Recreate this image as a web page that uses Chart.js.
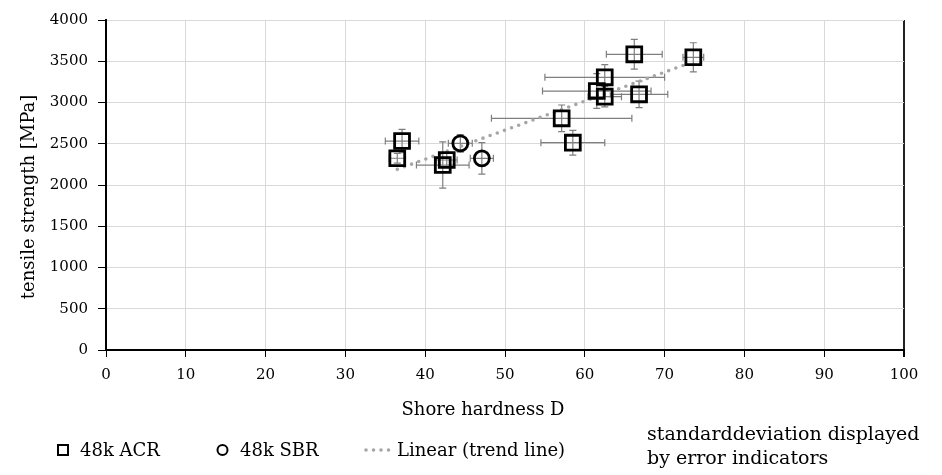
<!DOCTYPE html>
<html>
<head>
<meta charset="utf-8">
<script src="https://cdn.jsdelivr.net/npm/chart.js@4.4.1/dist/chart.umd.min.js"></script>
<style>
  html, body { margin: 0; padding: 0; background: #fff; }
  #wrap { width: 942px; height: 475px; position: relative; }
</style>
</head>
<body>
<div id="wrap"><canvas id="myChart" width="942" height="475"></canvas></div>
<script>
const ctx = document.getElementById('myChart');

// 48k ACR (squares)
const acrX    = [37.1, 36.5, 42.2, 42.7, 57.1, 58.5, 61.5, 62.5, 62.5, 66.8, 66.2, 73.6];
const acrY    = [2533, 2324, 2242, 2303, 2808, 2513, 3139, 3305, 3071, 3099, 3584, 3548];
const acrXErr = [2.1, 1.0, 3.3, 1.3, 8.8, 4.0, 6.8, 7.5, 2.1, 3.6, 3.5, 1.3];
const acrYErr = [142, 60, 280, 80, 162, 150, 210, 153, 125, 161, 180, 176];

// 48k SBR (circles)
const sbrX    = [44.4, 47.1];
const sbrY    = [2505, 2323];
const sbrXErr = [1.5, 1.45];
const sbrYErr = [107, 190];

// linear trend line
const trendX = [36.5, 72.7];
const trendY = [2190, 3463];

const legendLabels = ['48k ACR', '48k SBR', 'Linear (trend line)'];
const noteLines = ['standarddeviation displayed', 'by error indicators'];
const xTitle = 'Shore hardness D';
const yTitle = 'tensile strength [MPa]';

const FONT = "'DejaVu Serif', serif";

function pts(xs, ys) {
  return xs.map((x, i) => ({ x: x, y: ys[i] }));
}

// error bars, drawn under the markers
const errorBars = {
  id: 'errorBars',
  beforeDatasetsDraw(chart) {
    const c = chart.ctx;
    const xs = chart.scales.x, ys = chart.scales.y;
    c.save();
    c.strokeStyle = '#7f7f7f';
    c.lineWidth = 1.2;
    chart.data.datasets.forEach(ds => {
      if (!ds.xErr) return;
      ds.data.forEach((p, i) => {
        const px = xs.getPixelForValue(p.x), py = ys.getPixelForValue(p.y);
        const x1 = xs.getPixelForValue(p.x - ds.xErr[i]);
        const x2 = xs.getPixelForValue(p.x + ds.xErr[i]);
        const y1 = ys.getPixelForValue(p.y - ds.yErr[i]);
        const y2 = ys.getPixelForValue(p.y + ds.yErr[i]);
        const cap = 3.5;
        c.beginPath();
        c.moveTo(x1, py); c.lineTo(x2, py);
        c.moveTo(x1, py - cap); c.lineTo(x1, py + cap);
        c.moveTo(x2, py - cap); c.lineTo(x2, py + cap);
        c.moveTo(px, y1); c.lineTo(px, y2);
        c.moveTo(px - cap, y1); c.lineTo(px + cap, y1);
        c.moveTo(px - cap, y2); c.lineTo(px + cap, y2);
        c.stroke();
      });
    });
    c.restore();
  }
};

// axis titles, legend row and note
const bottomLegend = {
  id: 'bottomLegend',
  afterDraw(chart) {
    const c = chart.ctx;
    const y = 456;
    c.save();
    c.font = '18px ' + FONT;
    c.fillStyle = '#000';
    c.textBaseline = 'alphabetic';
    c.textAlign = 'center';
    c.fillText(xTitle, 483, 415);

    c.save();
    c.translate(34, 197);
    c.rotate(-Math.PI / 2);
    c.fillText(yTitle, 0, 0);
    c.restore();

    c.textAlign = 'left';
    // square
    c.strokeStyle = '#000';
    c.lineWidth = 2;
    c.strokeRect(58, y - 11, 10, 10);
    c.fillText(legendLabels[0], 80, y);

    // circle
    c.beginPath();
    c.arc(222.5, y - 6, 5, 0, Math.PI * 2);
    c.stroke();
    c.fillText(legendLabels[1], 240, y);

    // dotted line
    c.fillStyle = '#a6a6a6';
    for (let i = 0; i < 4; i++) {
      c.beginPath();
      c.arc(366 + i * 7.5, y - 6, 1.8, 0, Math.PI * 2);
      c.fill();
    }
    c.fillStyle = '#000';
    c.fillText(legendLabels[2], 397, y);

    c.font = '19px ' + FONT;
    c.fillText(noteLines[0], 647, 440);
    c.fillText(noteLines[1], 647, 464);
    c.restore();
  }
};

new Chart(ctx, {
  type: 'scatter',
  data: {
    datasets: [{
      label: legendLabels[0],
      data: pts(acrX, acrY),
      xErr: acrXErr,
      yErr: acrYErr,
      pointStyle: 'rect',
      pointRadius: 10.5,
      pointHoverRadius: 10.5,
      borderColor: '#000',
      backgroundColor: 'rgba(0,0,0,0)',
      pointBorderWidth: 2.8,
      borderWidth: 2.8
    }, {
      label: legendLabels[1],
      data: pts(sbrX, sbrY),
      xErr: sbrXErr,
      yErr: sbrYErr,
      pointStyle: 'circle',
      pointRadius: 7.5,
      pointHoverRadius: 7.5,
      borderColor: '#000',
      backgroundColor: 'rgba(0,0,0,0)',
      pointBorderWidth: 2.8,
      borderWidth: 2.8
    }, {
      label: legendLabels[2],
      data: pts(trendX, trendY),
      showLine: true,
      pointRadius: 0,
      borderColor: '#a6a6a6',
      borderWidth: 3.6,
      borderDash: [0, 7.6],
      borderCapStyle: 'round'
    }]
  },
  options: {
    responsive: false,
    animation: false,
    layout: { padding: { left: 0, right: 38, top: 20, bottom: 57 } },
    plugins: {
      legend: { display: false },
      tooltip: { enabled: false }
    },
    scales: {
      x: {
        type: 'linear',
        min: 0,
        max: 100,
        afterFit: s => { s.height = 68; },
        ticks: {
          stepSize: 10,
          padding: 9,
          color: '#000',
          font: { family: FONT, size: 15 }
        },
        grid: {
          color: c => c.tick && c.tick.value === 100 ? '#222' : '#d9d9d9',
          lineWidth: c => c.tick && c.tick.value === 100 ? 2 : 1,
          tickColor: '#000',
          tickLength: 7
        },
        border: { color: '#000', width: 2 }
      },
      y: {
        min: 0,
        max: 4000,
        afterFit: s => { s.width = 106; },
        ticks: {
          stepSize: 500,
          padding: 10,
          color: '#000',
          font: { family: FONT, size: 15 },
          callback: v => String(v)
        },
        grid: {
          color: '#d9d9d9',
          tickColor: '#000',
          tickLength: 8
        },
        border: { color: '#000', width: 2 }
      }
    }
  },
  plugins: [errorBars, bottomLegend]
});
</script>
</body>
</html>
